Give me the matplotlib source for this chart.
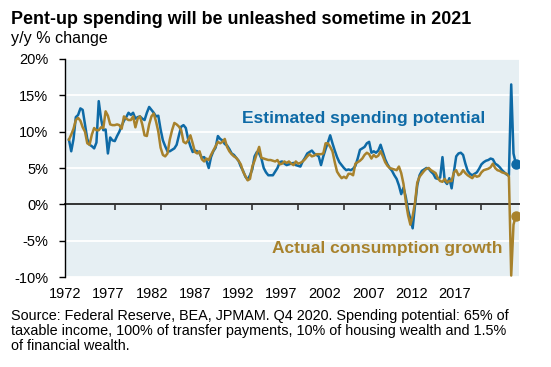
import numpy as np
import matplotlib.pyplot as plt

plt.rcParams['font.family'] = ['Liberation Sans', 'DejaVu Sans']

# quarterly y/y % change, 1972Q1 .. 2020Q4
estimated = [
    8.9, 7.3, 9.0, 12.0,   # 1972
    12.3, 13.2, 13.0, 11.0,
    9.0, 8.2, 8.0, 7.7,
    8.5, 14.2, 11.8, 10.2,
    10.3, 7.0, 9.2, 8.8,
    8.7, 9.4, 10.0, 10.8,   # 1977
    11.5, 12.0, 12.6, 12.3,
    12.6, 11.8, 12.0, 12.1,
    11.8, 11.6, 12.6, 13.4,
    13.0, 12.6, 12.1, 12.2,
    10.3, 8.8, 8.0, 7.3,   # 1982
    7.3, 7.5, 7.7, 8.2,
    9.5, 10.7, 10.9, 10.5,
    9.0, 8.0, 7.2, 7.4,
    7.3, 7.0, 6.4, 6.5,
    6.0, 5.0, 6.5, 7.3,   # 1987
    7.8, 9.4, 9.0, 8.8,
    8.3, 8.1, 7.6, 7.0,
    6.8, 6.4, 6.0, 5.2,
    4.6, 3.8, 3.4, 4.0,
    4.8, 6.6, 7.2, 7.0,   # 1992
    6.3, 5.0, 4.4, 4.0,
    4.0, 4.0, 4.5, 5.0,
    5.8, 5.9, 5.6, 5.4,
    5.5, 5.6, 5.7, 5.4,
    5.3, 5.2, 5.9, 6.4,   # 1997
    7.0, 7.2, 7.4, 7.0,
    6.8, 6.6, 5.4, 6.6,
    7.6, 8.5, 9.5, 8.4,
    7.4, 6.5, 5.8, 5.4,
    5.0, 4.7, 4.8, 4.7,   # 2002
    4.9, 5.3, 6.3, 7.5,
    7.7, 7.9, 8.4, 8.6,
    7.1, 7.3, 7.1, 7.4,
    8.2, 7.2, 6.2, 5.5,
    5.0, 4.6, 4.0, 3.5,   # 2007
    2.6, 1.4, 2.3, 1.0,
    -0.8, -2.0, -3.3, -0.2,
    2.6, 4.0, 4.6, 4.8,
    5.0, 4.9, 4.5, 4.2,
    3.6, 3.5, 3.7, 6.5,   # 2012
    3.2, 2.8, 3.6, 2.2,
    4.5, 6.6, 7.0, 7.1,
    6.8, 5.6, 4.6, 4.2,
    4.0, 4.2, 4.4, 4.9,
    5.5, 5.8, 6.0, 6.1,   # 2017
    6.3, 6.2, 5.6, 5.4,
    5.1, 4.7, 4.4, 4.1,
    4.0, 16.5, 7.0, 5.6,
]

actual = [
    8.9, 9.6, 10.4, 11.6,   # 1972
    11.9, 11.5, 10.6, 10.0,
    8.4, 8.2, 9.6, 10.5,
    10.2, 10.2, 10.6, 10.5,
    12.8, 12.2, 11.0, 10.9,
    10.9, 11.0, 10.9, 10.4,   # 1977
    12.1, 11.8, 11.6, 11.6,
    12.1, 10.6, 11.8, 12.1,
    11.0, 9.5, 9.4, 11.0,
    12.1, 12.5, 11.4, 10.0,
    7.8, 6.8, 6.6, 7.0,   # 1982
    8.9, 10.2, 11.2, 11.0,
    10.7, 10.2, 8.6, 8.4,
    8.8, 9.5, 8.4, 7.2,
    7.0, 7.3, 6.2, 5.9,
    6.3, 6.1, 6.8, 7.4,   # 1987
    8.0, 8.6, 8.4, 8.6,
    9.0, 7.9, 7.3, 6.9,
    6.6, 6.4, 6.0, 5.5,
    4.5, 3.9, 3.3, 3.5,
    5.2, 6.0, 7.0, 7.9,   # 1992
    6.4, 6.3, 6.2, 6.1,
    6.1, 6.0, 5.9, 6.1,
    5.5, 5.6, 5.9, 5.7,
    5.9, 5.6, 5.4, 5.9,
    5.6, 5.7, 5.9, 6.2,   # 1997
    6.6, 6.9, 6.6, 6.7,
    6.9, 6.9, 6.9, 7.0,
    8.4, 8.4, 7.9, 7.3,
    5.8, 4.5, 4.0, 3.6,
    3.8, 3.6, 4.2, 4.2,   # 2002
    4.0, 5.6, 5.8, 6.0,
    6.3, 6.8, 7.1, 6.9,
    6.3, 6.8, 6.5, 6.7,
    7.3, 6.6, 5.8, 5.3,
    5.0, 4.9, 4.8, 4.7,   # 2007
    5.2, 4.3, 2.8, 0.4,
    -1.5, -2.8, -1.6, 0.2,
    3.0, 3.8, 4.2, 4.6,
    4.9, 5.0, 4.7, 4.5,
    4.3, 3.6, 3.2, 3.1,   # 2012
    3.5, 3.0, 3.2, 3.2,
    4.4, 4.7, 4.0, 4.2,
    4.7, 4.3, 4.0, 3.8,
    3.6, 4.0, 3.8, 3.9,
    4.4, 4.7, 4.8, 4.9,   # 2017
    5.1, 5.6, 5.0, 4.7,
    4.6, 4.4, 4.3, 4.2,
    3.8, -9.8, -2.8, -1.6,
]

quarters = 1972 + np.arange(len(estimated)) / 4
year_labels = [str(y) for y in range(1972, 2018, 5)]
y_ticks = [-10, -5, 0, 5, 10, 15, 20]

blue = '#0E6AA6'
gold = '#A8822C'

fig = plt.figure(figsize=(5.51, 3.67), dpi=100)
ax = fig.add_axes([65 / 551, 1 - 277 / 367, 454 / 551, 218 / 367])
ax.set_facecolor('#E6EFF3')

for y in y_ticks:
    if y != 0:
        ax.axhline(y, color='white', lw=1.3, zorder=1)

ax.plot(quarters, estimated, color=blue, lw=1.8, zorder=3)
ax.plot(quarters, actual, color=gold, lw=1.8, zorder=4)
# end points
ax.plot(quarters[-1], estimated[-1], 'o', color=blue, ms=6.5, zorder=5)
ax.plot(quarters[-1], actual[-1], 'o', color=gold, ms=6.5, zorder=5)

ax.set_xlim(1972, 2021.1)
ax.set_ylim(-10, 20)
ax.set_yticks(y_ticks)
ax.set_yticklabels(['{}%'.format(y) for y in y_ticks], fontsize=10.5)
ax.tick_params(axis='y', length=4, width=1, color='black', pad=8)

# year labels sit a bit off the tick marks, like the original
ax.set_xticks(np.linspace(1971.57, 2014.1, len(year_labels)), year_labels, fontsize=10.5)
ax.tick_params(axis='x', length=0, pad=7)

for side in ['top', 'right', 'bottom']:
    ax.spines[side].set_visible(False)
ax.spines['left'].set_color('black')
ax.spines['left'].set_linewidth(1)

# zero line with the year ticks
zero = ax.secondary_xaxis(1 / 3)
zero.set_xticks(range(1977, 2018, 5))
zero.set_xticklabels([])
zero.tick_params(length=4, width=1.2, color='#333333')
zero.spines['bottom'].set_color('#333333')
zero.spines['bottom'].set_linewidth(1.4)

ax.text(1990.93, 11.75, 'Estimated spending potential', color=blue,
        fontsize=12.5, fontweight='bold', ha='left', va='center', zorder=6)
ax.text(1994.18, -6.1, 'Actual consumption growth', color=gold,
        fontsize=12.5, fontweight='bold', ha='left', va='center', zorder=6)

fig.text(11 / 551, 1 - 24 / 367, 'Pent-up spending will be unleashed sometime in 2021',
         fontsize=12.9, fontweight='bold', va='baseline')
fig.text(11 / 551, 1 - 43 / 367, 'y/y % change', fontsize=11.6, va='baseline')

source = ('Source: Federal Reserve, BEA, JPMAM. Q4 2020. Spending potential: 65% of\n'
          'taxable income, 100% of transfer payments, 10% of housing wealth and 1.5%\n'
          'of financial wealth.')
fig.text(11 / 551, 1 - 309 / 367, source, fontsize=10.4, va='top', linespacing=1.08)

fig.savefig('out.png', dpi=100)
